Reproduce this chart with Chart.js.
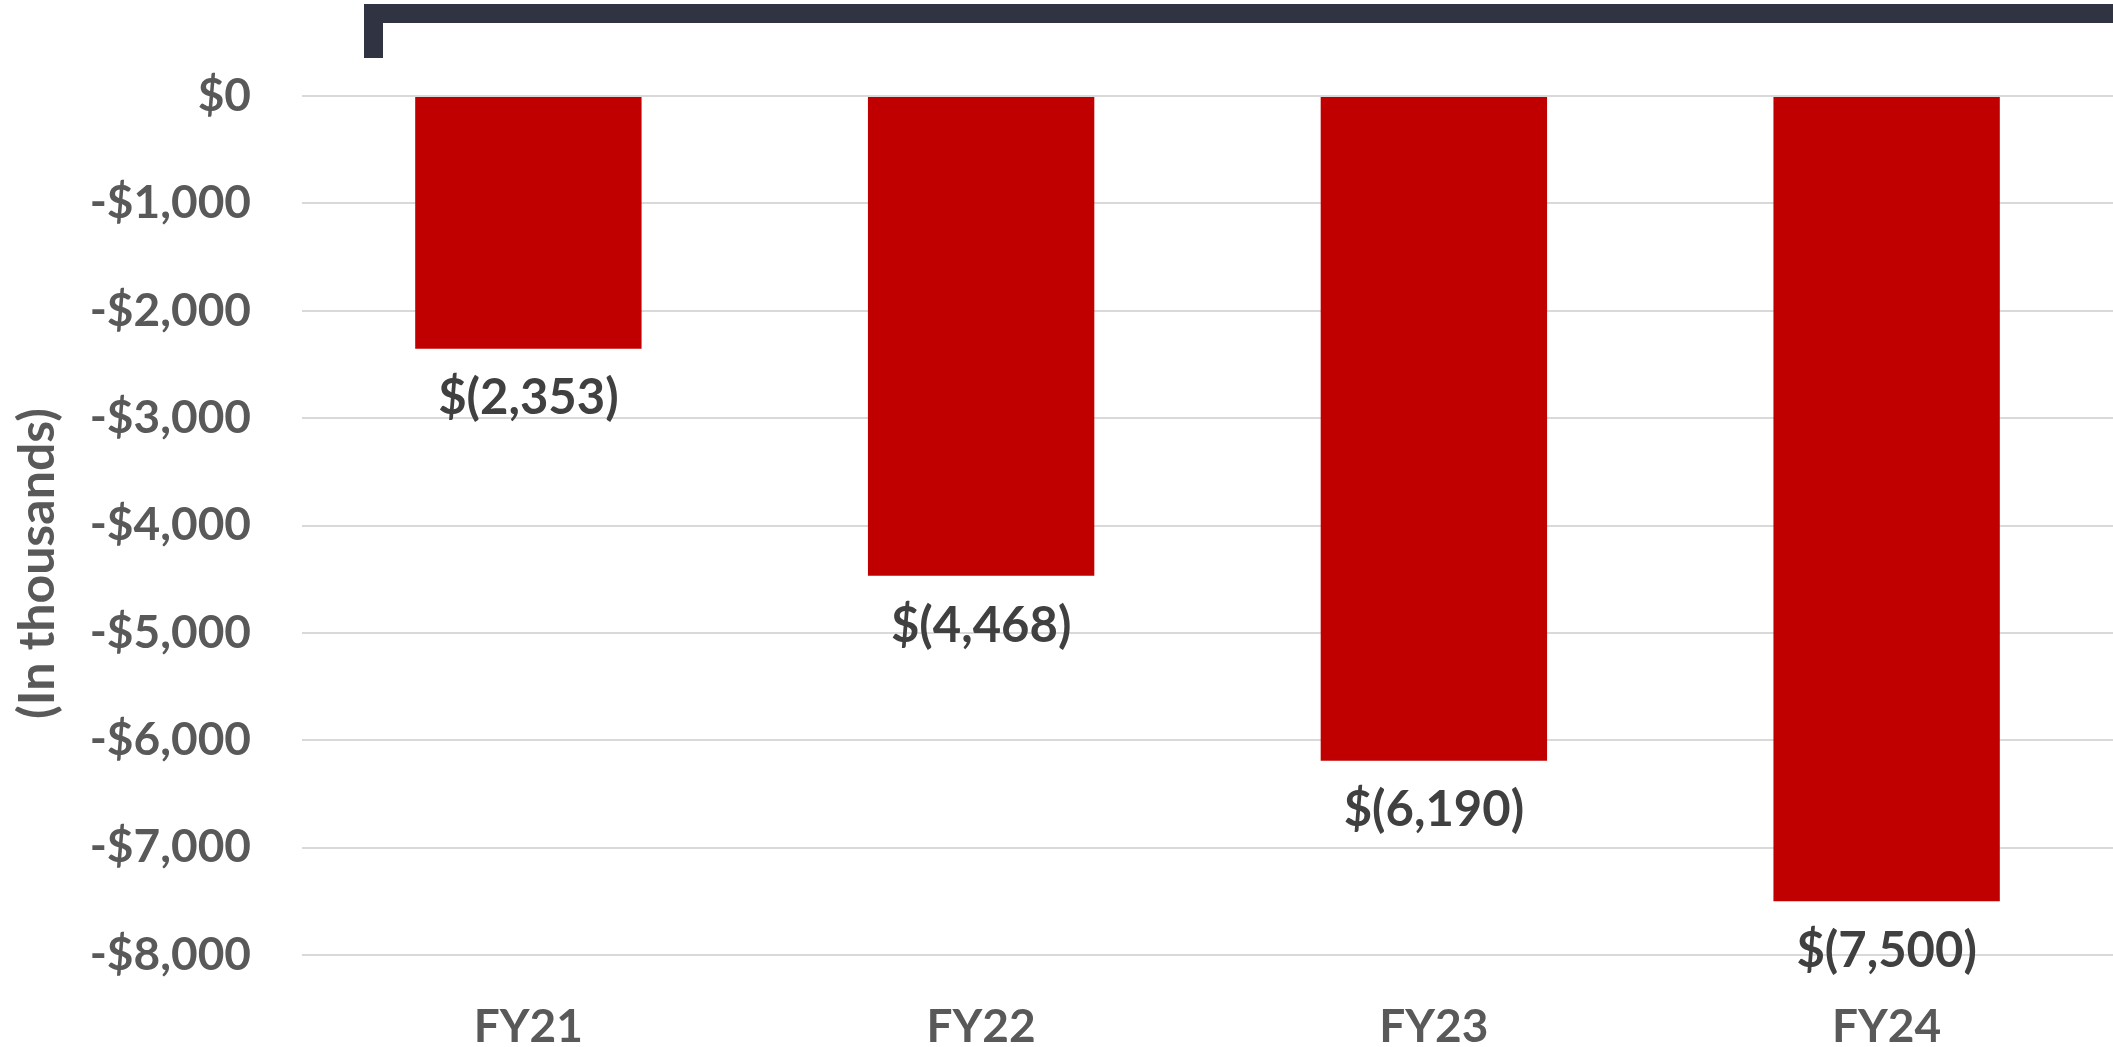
<!DOCTYPE html>
<html>
<head>
<meta charset="utf-8">
<script src="https://cdn.jsdelivr.net/npm/chart.js"></script>
<style>
  html, body { margin: 0; padding: 0; background: #ffffff; }
  #wrap { position: relative; width: 2113px; height: 1047px; overflow: hidden; }
  #bracket {
    position: absolute; left: 364px; top: 4px; width: 1800px; height: 54px;
    border-top: 19px solid #2f3342; border-left: 19px solid #2f3342;
    box-sizing: border-box;
  }
</style>
</head>
<body>
<div id="wrap">
  <canvas id="lossChart" width="2113" height="1047"></canvas>
  <div id="bracket"></div>
</div>
<script>
const categories = ["FY21", "FY22", "FY23", "FY24"];
const netLoss = [-2353, -4468, -6190, -7500];
const yMin = -8000;
const yMax = 0;
const yStep = 1000;
const axisTitle = "(In thousands)";

const FONT = "Lato, 'Open Sans', 'Liberation Sans', sans-serif";

function money(v) {
  const s = Math.abs(v).toLocaleString("en-US");
  return v < 0 ? "-$" + s : "$" + s;
}

function paren(v) {
  const s = Math.abs(v).toLocaleString("en-US");
  return v < 0 ? "$(" + s + ")" : "$" + s;
}

const barLabels = {
  id: "barLabels",
  afterDatasetsDraw(chart) {
    const ctx = chart.ctx;
    const meta = chart.getDatasetMeta(0);
    ctx.save();
    ctx.font = "bold 49px " + FONT;
    ctx.fillStyle = "#404040";
    ctx.textAlign = "center";
    ctx.textBaseline = "middle";
    meta.data.forEach((bar, i) => {
      ctx.fillText(paren(netLoss[i]), bar.x, bar.y + 50);
    });
    ctx.restore();
  },
};

const sideTitle = {
  id: "sideTitle",
  afterDraw(chart) {
    const ctx = chart.ctx;
    const area = chart.chartArea;
    ctx.save();
    ctx.font = "bold 50px " + FONT;
    ctx.fillStyle = "#595959";
    ctx.textAlign = "center";
    ctx.textBaseline = "middle";
    ctx.translate(38, (area.top + chart.height) / 2 - 8);
    ctx.rotate(-Math.PI / 2);
    ctx.fillText(axisTitle, 0, 0);
    ctx.restore();
  },
};

new Chart(document.getElementById("lossChart"), {
  type: "bar",
  data: {
    labels: categories,
    datasets: [
      {
        label: "Net loss",
        data: netLoss,
        backgroundColor: "#c00000",
        borderWidth: 0,
        categoryPercentage: 1,
        barPercentage: 0.5,
      },
    ],
  },
  options: {
    responsive: false,
    animation: false,
    devicePixelRatio: 1,
    layout: { padding: { top: 96, right: 0, bottom: 0, left: 0 } },
    plugins: {
      legend: { display: false },
      tooltip: { enabled: false },
    },
    scales: {
      x: {
        grid: { display: false, drawTicks: false },
        border: { display: false },
        ticks: {
          color: "#595959",
          padding: 49,
          font: { family: FONT, size: 46, weight: "bold", lineHeight: 1 },
        },
        afterFit(scale) {
          scale.height = 92;
        },
      },
      y: {
        min: yMin,
        max: yMax,
        grid: { color: "#d9d9d9", lineWidth: 2, drawTicks: false },
        border: { display: false },
        ticks: {
          stepSize: yStep,
          color: "#595959",
          padding: 51,
          font: { family: FONT, size: 46, weight: "bold" },
          callback: (v) => money(v),
        },
        afterFit(scale) {
          scale.width = 302;
        },
      },
    },
  },
  plugins: [barLabels, sideTitle],
});
</script>
</body>
</html>
